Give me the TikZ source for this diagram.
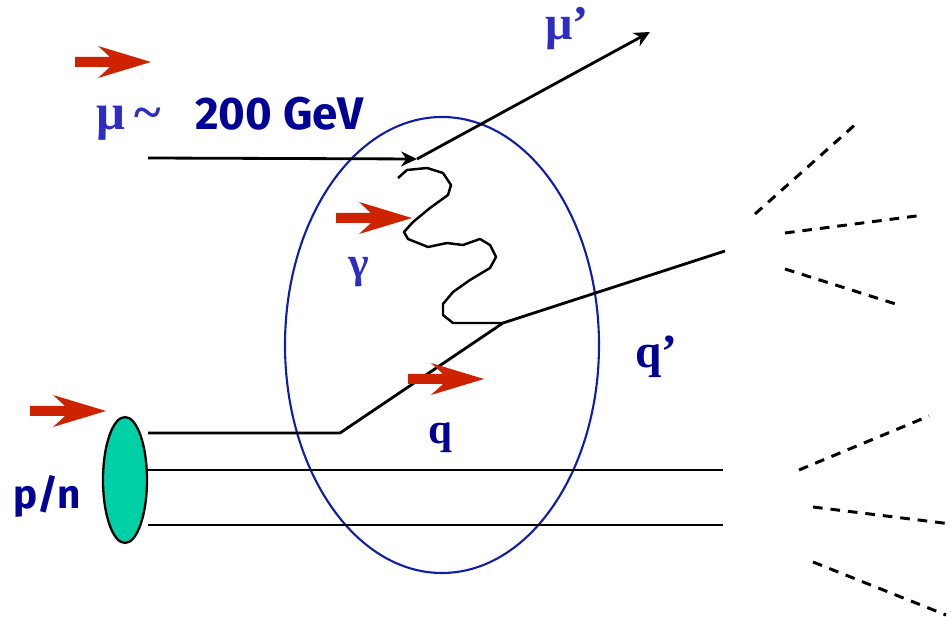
\documentclass[tikz,border=0pt]{standalone}
\usepackage{fontspec}
\setmainfont{Liberation Serif}
\newfontfamily\labelsans{Fira Sans}
\usetikzlibrary{arrows.meta,shapes.geometric}
\definecolor{navy}{RGB}{0,0,150}
\definecolor{lblue}{RGB}{45,45,195}
\definecolor{rred}{RGB}{205,35,0}
\definecolor{ringblue}{RGB}{15,30,170}
\definecolor{blobgreen}{RGB}{0,208,165}
\tikzset{
  fermion/.style={line width=1.6pt, black, line join=round},
  jetline/.style={line width=1.7pt, dash pattern=on 5.5pt off 4.5pt},
  muarrow/.style={fermion, -{Stealth[length=9pt,width=8.5pt]}},
  redarrow/.pic={\fill[rred] (0,-5)--(35,-5)--(23,-16)--(76,0)--(23,16)--(35,5)--(0,5)--cycle;},
  serlab/.style={anchor=base west, inner sep=0pt, font=\bfseries},
  sanslab/.style={anchor=base west, inner sep=0pt, text=navy, font=\labelsans\bfseries},
}
\begin{document}
\begin{tikzpicture}[x=0.02cm, y=-0.02cm]
\useasboundingbox (0,0) rectangle (951,617);
% coordinates
\coordinate (muin) at (148,158);
\coordinate (vmu) at (417,159);
\coordinate (muout) at (650,32);
\coordinate (vq) at (503,323);
\coordinate (kink) at (340,433);
\coordinate (qin) at (148,433);
\coordinate (qout) at (725,251);
\coordinate (s1a) at (148,470);
\coordinate (s1b) at (723,470);
\coordinate (s2a) at (148,525);
\coordinate (s2b) at (723,525);
% big blue ellipse
\draw[ringblue, line width=1.2pt] (442,345) ellipse [x radius=157, y radius=228];
% hadron
\node[ellipse, draw=black, line width=1.3pt, fill=blobgreen, minimum width=0.88cm, minimum height=2.52cm, inner sep=0pt] (hadron) at (125,480) {};
% muon lines
\draw[muarrow] (muin) -- (vmu);
\draw[muarrow] (vmu) -- (muout);
% photon
\draw[fermion, line width=1.4pt] (vq) -- (480,323) -- (453,323) -- (443,315) -- (443,304) -- (453,292) -- (470,280) -- (490,268) -- (496,257) -- (490,245) -- (480,239) -- (463,245) -- (447,243) -- (428,247) -- (408,239) -- (404,232) -- (413,222) -- (430,208) -- (448,195) -- (451,185) -- (443,173) -- (427,168) -- (407,170) -- (398,178);
% quarks
\draw[fermion] (qin) -- (kink) -- (vq) -- (qout);
\draw[fermion] (s1a) -- (s1b);
\draw[fermion] (s2a) -- (s2b);
% jets
\coordinate (j1a) at (755,214); \coordinate (j1b) at (857,123);
\coordinate (j2a) at (785,233); \coordinate (j2b) at (924,215);
\coordinate (j3a) at (785,269); \coordinate (j3b) at (902,306);
\coordinate (j4a) at (799,470); \coordinate (j4b) at (929,416);
\coordinate (j5a) at (813,507); \coordinate (j5b) at (951,524);
\coordinate (j6a) at (813,562); \coordinate (j6b) at (946,615);
\draw[jetline] (j1a) -- (j1b);
\draw[jetline] (j2a) -- (j2b);
\draw[jetline] (j3a) -- (j3b);
\draw[jetline] (j4a) -- (j4b);
\draw[jetline] (j5a) -- (j5b);
\draw[jetline] (j6a) -- (j6b);
% red arrows
\pic at (75,62) {redarrow};
\pic at (336,218) {redarrow};
\pic at (408,379) {redarrow};
\pic at (30,411) {redarrow};
% labels
\node[serlab, text=lblue, font=\fontsize{29}{30}\selectfont\bfseries] (mulab) at (96,130) {μ\hspace{5pt}{\char"007E}};
\node[sanslab, font=\labelsans\bfseries\fontsize{26}{28}\selectfont] (elab) at (195,130) {200 GeV};
\node[serlab, text=lblue, font=\fontsize{27.5}{28}\selectfont\bfseries] (muplab) at (545,40) {μ’};
\node[serlab, text=lblue, font=\fontsize{25}{27}\selectfont\bfseries] (glab) at (348,278) {γ};
\node[serlab, text=navy, font=\fontsize{27}{29}\selectfont\bfseries] (qplab) at (635,368) {q’};
\node[serlab, text=navy, font=\fontsize{24.5}{25}\selectfont\bfseries] (qlab) at (428,444) {q};
\node[sanslab, font=\labelsans\bfseries\fontsize{23}{25}\selectfont] (pnlab) at (13,509) {p/n};
\end{tikzpicture}
\end{document}
